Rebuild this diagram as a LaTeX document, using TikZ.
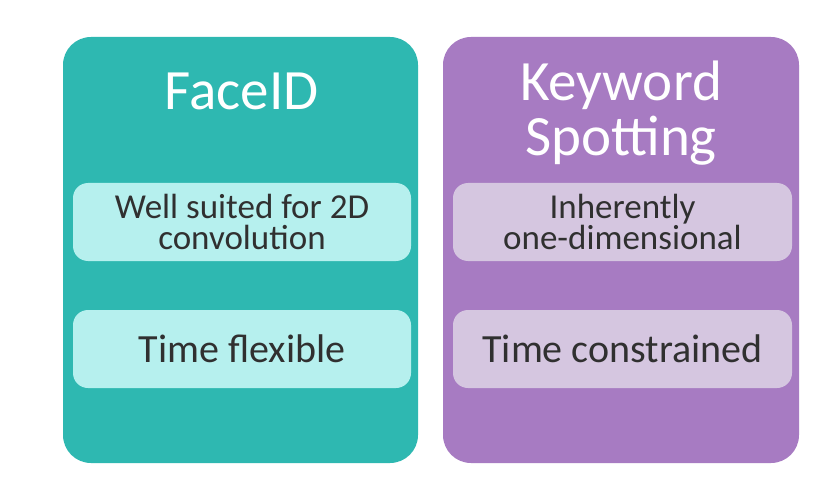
\documentclass[tikz,border=0pt]{standalone}
\usepackage{fontspec}
\setmainfont{Carlito}
\definecolor{tealpanel}{HTML}{2EB8B1}
\definecolor{tealinner}{HTML}{B6F0EE}
\definecolor{purppanel}{HTML}{A77BC2}
\definecolor{purpinner}{HTML}{D5C6E0}
\definecolor{inktext}{HTML}{303030}
\begin{document}
\begin{tikzpicture}[x=1pt,y=-1pt,
  panel/.style={rounded corners=28pt, minimum width=355pt, minimum height=426pt, inner sep=0pt, draw=none},
  inner/.style={rounded corners=15pt, minimum width=338pt, minimum height=78pt, inner sep=0pt, draw=none, align=center, text=inktext},
  smalltxt/.style={font=\fontsize{35}{31.5}\selectfont},
  bigtxt/.style={font=\fontsize{40}{44}\selectfont},
  title/.style={font=\fontsize{57}{60}\selectfont, text=white, inner sep=0pt, anchor=base}
]
\useasboundingbox (0,0) rectangle (832,497);
\fill[white] (0,0) rectangle (832,497);
% panels
\node[panel, fill=tealpanel] (lp) at (240.5,250) {};
\node[panel, fill=purppanel, minimum width=356pt] (rp) at (621,250) {};
% titles
\node[title] (lt) at (241.5,110) {FaceID};
\node[title] (rt1) at (621,101) {Keyword};
\node[title] (rt2) at (621,156) {Spotting};
% inner boxes
\node[inner, fill=tealinner, smalltxt] (l1) at (242,222) {Well suited for 2D\\convolution};
\node[inner, fill=tealinner, bigtxt] (l2) at (242,349) {Time flexible};
\node[inner, fill=purpinner, smalltxt, minimum width=339pt] (r1) at (622.5,222) {Inherently\\one-dimensional};
\node[inner, fill=purpinner, bigtxt, minimum width=339pt] (r2) at (622.5,349) {Time constrained};
\end{tikzpicture}
\end{document}
